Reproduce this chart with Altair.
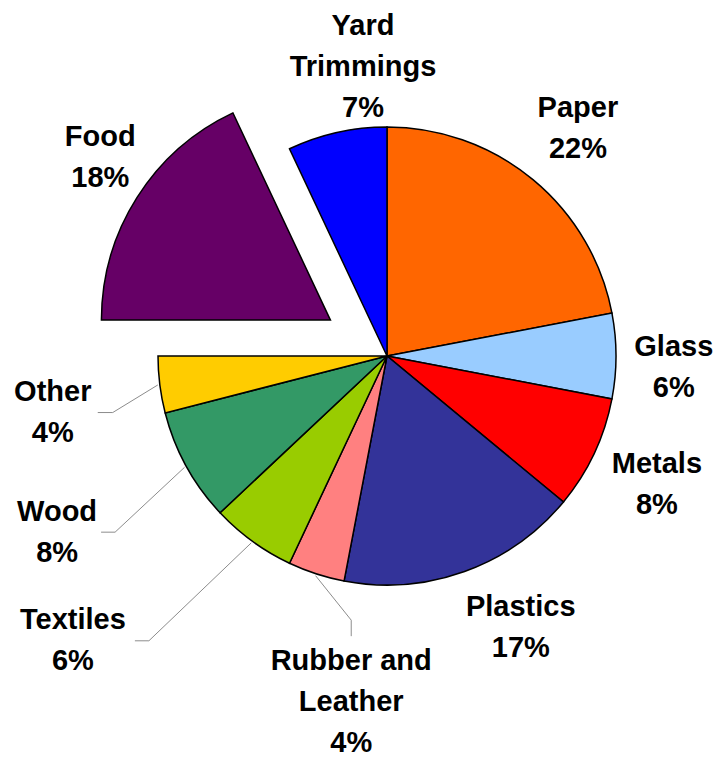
import altair as alt
import numpy as np
import pandas as pd

# ---- data ----
categories = ["Paper", "Glass", "Metals", "Plastics", "Rubber and Leather",
              "Textiles", "Wood", "Other", "Food", "Yard Trimmings"]
shares = [22, 6, 8, 17, 4, 6, 8, 4, 18, 7]
label_names = ["Paper", "Glass", "Metals", "Plastics", "Rubber and\nLeather",
               "Textiles", "Wood", "Other", "Food", "Yard\nTrimmings"]
colors = ["#FF6600", "#99CCFF", "#FF0000", "#333399", "#FF8080",
          "#99CC00", "#339966", "#FFCC00", "#660066", "#0000FF"]

# ---- layout / style ----
R = 229
EXPLODE = {"Food": 67}
LINE_H = 41
label_nudge_deg = [0.4, 2.2, 0.3, -6.4, -12.1, 11.8, 0.7, -2.4, 2.9, 7.85]
label_radius = [297, 287, 299, 303, 348, 424, 374, 339, 282, 290]
leaders = {
    "Other": [(60, 0), (45, 0)],
    "Wood": [(58, 0), (44, 0)],
    "Textiles": [(76, 0), (62, 0)],
    "Rubber and Leather": [(0, -82), (0, -66)],
}
W, H = 705, 752
CX, CY = 379, 348  # pie centre inside the view

vals = np.array(shares, dtype=float)
tot = vals.sum()
end = np.cumsum(vals) / tot * 2 * np.pi
start = end - vals / tot * 2 * np.pi
mid = (start + end) / 2

ex = np.array([EXPLODE.get(c, 0) for c in categories], dtype=float)
cx = ex * np.sin(mid)
cy = -ex * np.cos(mid)
la = mid + np.radians(label_nudge_deg)
lr = np.array(label_radius, dtype=float)
lx = cx + lr * np.sin(la)
ly = cy - lr * np.cos(la)

labels = [f"{n}\n{v}%" for n, v in zip(label_names, shares)]
nlines = np.array([s.count("\n") + 1 for s in labels])
# vega anchors the first line at y; shift so the block is centred
ly_first = ly - (nlines - 1) * LINE_H / 2

df = pd.DataFrame({
    "cat": categories,
    "t0": start, "t1": end,
    "cx": cx, "cy": cy,
    "lx": lx, "ly": ly_first,
    "label": labels,
})

segs = []
for i, c in enumerate(categories):
    if c in leaders:
        (ex1, ey1), (ex2, ey2) = leaders[c]
        sx = cx[i] + (R + 2) * np.sin(mid[i])
        sy = cy[i] - (R + 2) * np.cos(mid[i])
        bx, by = lx[i] + ex1, ly[i] + ey1
        tx, ty = lx[i] + ex2, ly[i] + ey2
        segs.append({"x": sx, "y": sy, "x2": bx, "y2": by})
        segs.append({"x": bx, "y": by, "x2": tx, "y2": ty})
seg_df = pd.DataFrame(segs)

xs = alt.Scale(domain=[-CX, W - CX], nice=False, zero=False)
ys = alt.Scale(domain=[-CY, H - CY], nice=False, zero=False, reverse=True)

rules = alt.Chart(seg_df).mark_rule(color="#8C8C8C", strokeWidth=1).encode(
    x=alt.X("x:Q", scale=xs, axis=None),
    y=alt.Y("y:Q", scale=ys, axis=None),
    x2="x2:Q", y2="y2:Q",
)

arcs = alt.Chart(df).mark_arc(radius=R, stroke="black", strokeWidth=1.5).encode(
    x=alt.X("cx:Q", scale=xs, axis=None),
    y=alt.Y("cy:Q", scale=ys, axis=None),
    theta=alt.Theta("t0:Q", scale=None),
    theta2="t1:Q",
    color=alt.Color("cat:N", scale=alt.Scale(domain=categories, range=colors), legend=None),
)

texts = alt.Chart(df).mark_text(
    font="Liberation Sans", fontSize=29, fontWeight="bold", color="black",
    align="center", baseline="middle", lineBreak="\n", lineHeight=LINE_H,
).encode(
    x=alt.X("lx:Q", scale=xs, axis=None),
    y=alt.Y("ly:Q", scale=ys, axis=None),
    text="label:N",
)

chart = alt.layer(rules, arcs, texts).properties(
    width=W, height=H, padding=0, autosize="none"
).configure_view(stroke=None)

chart.save("out.html", embed_options={"renderer": "svg", "actions": False})
